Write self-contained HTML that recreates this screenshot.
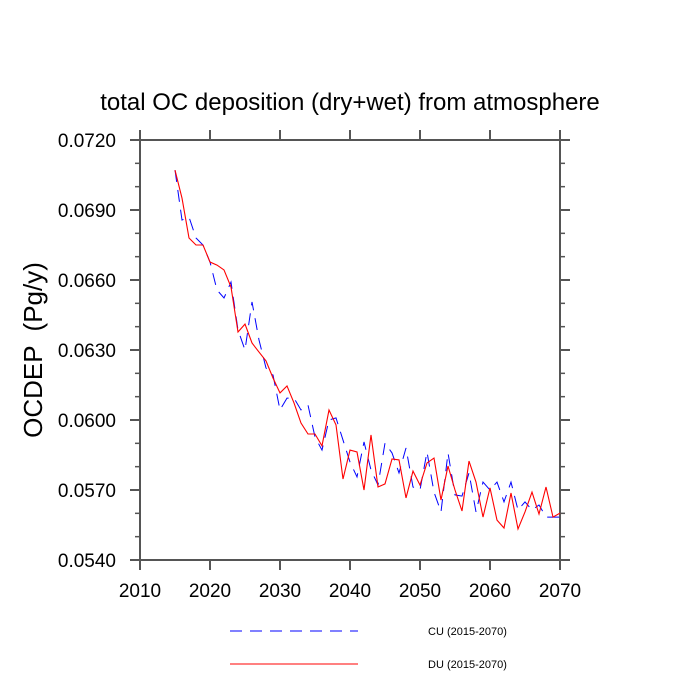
<!DOCTYPE html>
<html><head><meta charset="utf-8"><style>body{margin:0;background:#fff}svg{display:block}text{font-family:"Liberation Sans",Arial,sans-serif}</style></head>
<body>
<svg id="chart" width="700" height="700">
<text x="350" y="110" font-size="24" text-anchor="middle">total OC deposition (dry+wet) from atmosphere</text>
<text transform="translate(42,350) rotate(-90)" font-size="26" text-anchor="middle" xml:space="preserve">OCDEP  (Pg/y)</text>
<g id="axes"></g>
<g id="series"></g>
<g>
<line x1="230" y1="631" x2="358" y2="631" stroke="#0000ff" stroke-width="1" stroke-dasharray="12,8"/>
<text x="428" y="635" font-size="11">CU (2015-2070)</text>
<line x1="230" y1="664" x2="358" y2="664" stroke="#ff0000" stroke-width="1"/>
<text x="428" y="668" font-size="11">DU (2015-2070)</text>
</g>
</svg>
<script>
const years=[];for(let y=2015;y<=2070;y++)years.push(y);
const duValues=[0.07071,0.06951,0.0678,0.0675,0.0675,0.06677,0.06664,0.06643,0.0657,0.06377,0.06411,0.0633,0.06291,0.06253,0.0618,0.06116,0.06146,0.06073,0.05987,0.0594,0.0594,0.05889,0.06043,0.05979,0.05747,0.05871,0.05863,0.057,0.05936,0.05713,0.05726,0.05833,0.05829,0.05666,0.05781,0.05721,0.05816,0.05837,0.05657,0.05803,0.057,0.0561,0.05824,0.05734,0.05584,0.05709,0.05571,0.05537,0.05687,0.05533,0.05606,0.05691,0.05597,0.05713,0.05584,0.05601];
const cuValues=[0.07071,0.06857,0.0687,0.0678,0.0675,0.06677,0.06557,0.06523,0.06591,0.06386,0.063,0.06506,0.06343,0.06223,0.06193,0.06043,0.06094,0.06094,0.06043,0.06064,0.05927,0.05871,0.06,0.06009,0.05914,0.0582,0.05756,0.05906,0.05786,0.05721,0.05901,0.05859,0.05773,0.0588,0.05713,0.057,0.05863,0.05691,0.05606,0.05859,0.05679,0.05674,0.05773,0.05606,0.05734,0.057,0.05734,0.05649,0.05734,0.05614,0.05649,0.05614,0.05636,0.05584,0.05584,0.05584];
const xTicks=[2010,2020,2030,2040,2050,2060,2070];
const yTicks=[0.054,0.057,0.06,0.063,0.066,0.069,0.072];
const yTickLabels=["0.0540","0.0570","0.0600","0.0630","0.0660","0.0690","0.0720"];
const yMinor=[0.055,0.056,0.058,0.059,0.061,0.062,0.064,0.065,0.067,0.068,0.07,0.071];
const X0=140,X1=560,Y0=560,Y1=140;
const sx=v=>X0+(v-2010)/60*(X1-X0);
const sy=v=>Y0-(v-0.054)/0.018*(Y0-Y1);
const NS="http://www.w3.org/2000/svg";
const axes=document.getElementById('axes'),ser=document.getElementById('series');
function mk(tag,at,parent){const e=document.createElementNS(NS,tag);for(const k in at)e.setAttribute(k,at[k]);parent.appendChild(e);return e;}
const fr=mk('rect',{x:X0,y:Y1,width:X1-X0,height:Y0-Y1,fill:'none',stroke:'#555',"stroke-width":2},axes);


xTicks.forEach(t=>{const x=sx(t);
 const l=mk('line',{x1:x,y1:Y0,x2:x,y2:Y0+10,stroke:'#555',"stroke-width":2},axes);
 
 
 mk('line',{x1:x,y1:Y1,x2:x,y2:Y1-10,stroke:'#555',"stroke-width":2},axes);
 const tx=mk('text',{x:x,y:Y0+37,"font-size":19,"text-anchor":"middle"},axes);tx.textContent=t;
 
 });
yTicks.forEach((t,i)=>{const y=sy(t);
 const l=mk('line',{x1:X0-10,y1:y,x2:X0,y2:y,stroke:'#555',"stroke-width":2},axes);
 
 
 mk('line',{x1:X1,y1:y,x2:X1+10,y2:y,stroke:'#555',"stroke-width":2},axes);
 const tx=mk('text',{x:X0-24,y:y+7,"font-size":19,"text-anchor":"end"},axes);tx.textContent=yTickLabels[i];
 
 });
yMinor.forEach(t=>{const y=sy(t);
 mk('line',{x1:X0-5,y1:y,x2:X0,y2:y,stroke:'#555',"stroke-width":1.5},axes);
 mk('line',{x1:X1,y1:y,x2:X1+5,y2:y,stroke:'#555',"stroke-width":1.5},axes);});
const pts=a=>a.map((v,i)=>sx(years[i])+','+sy(v)).join(' ');
const cu=mk('polyline',{points:pts(cuValues),fill:'none',stroke:'#0000ff',"stroke-width":1,"stroke-dasharray":"12,8"},ser);


const du=mk('polyline',{points:pts(duValues),fill:'none',stroke:'#ff0000',"stroke-width":1.1},ser);


</script>
</body></html>
